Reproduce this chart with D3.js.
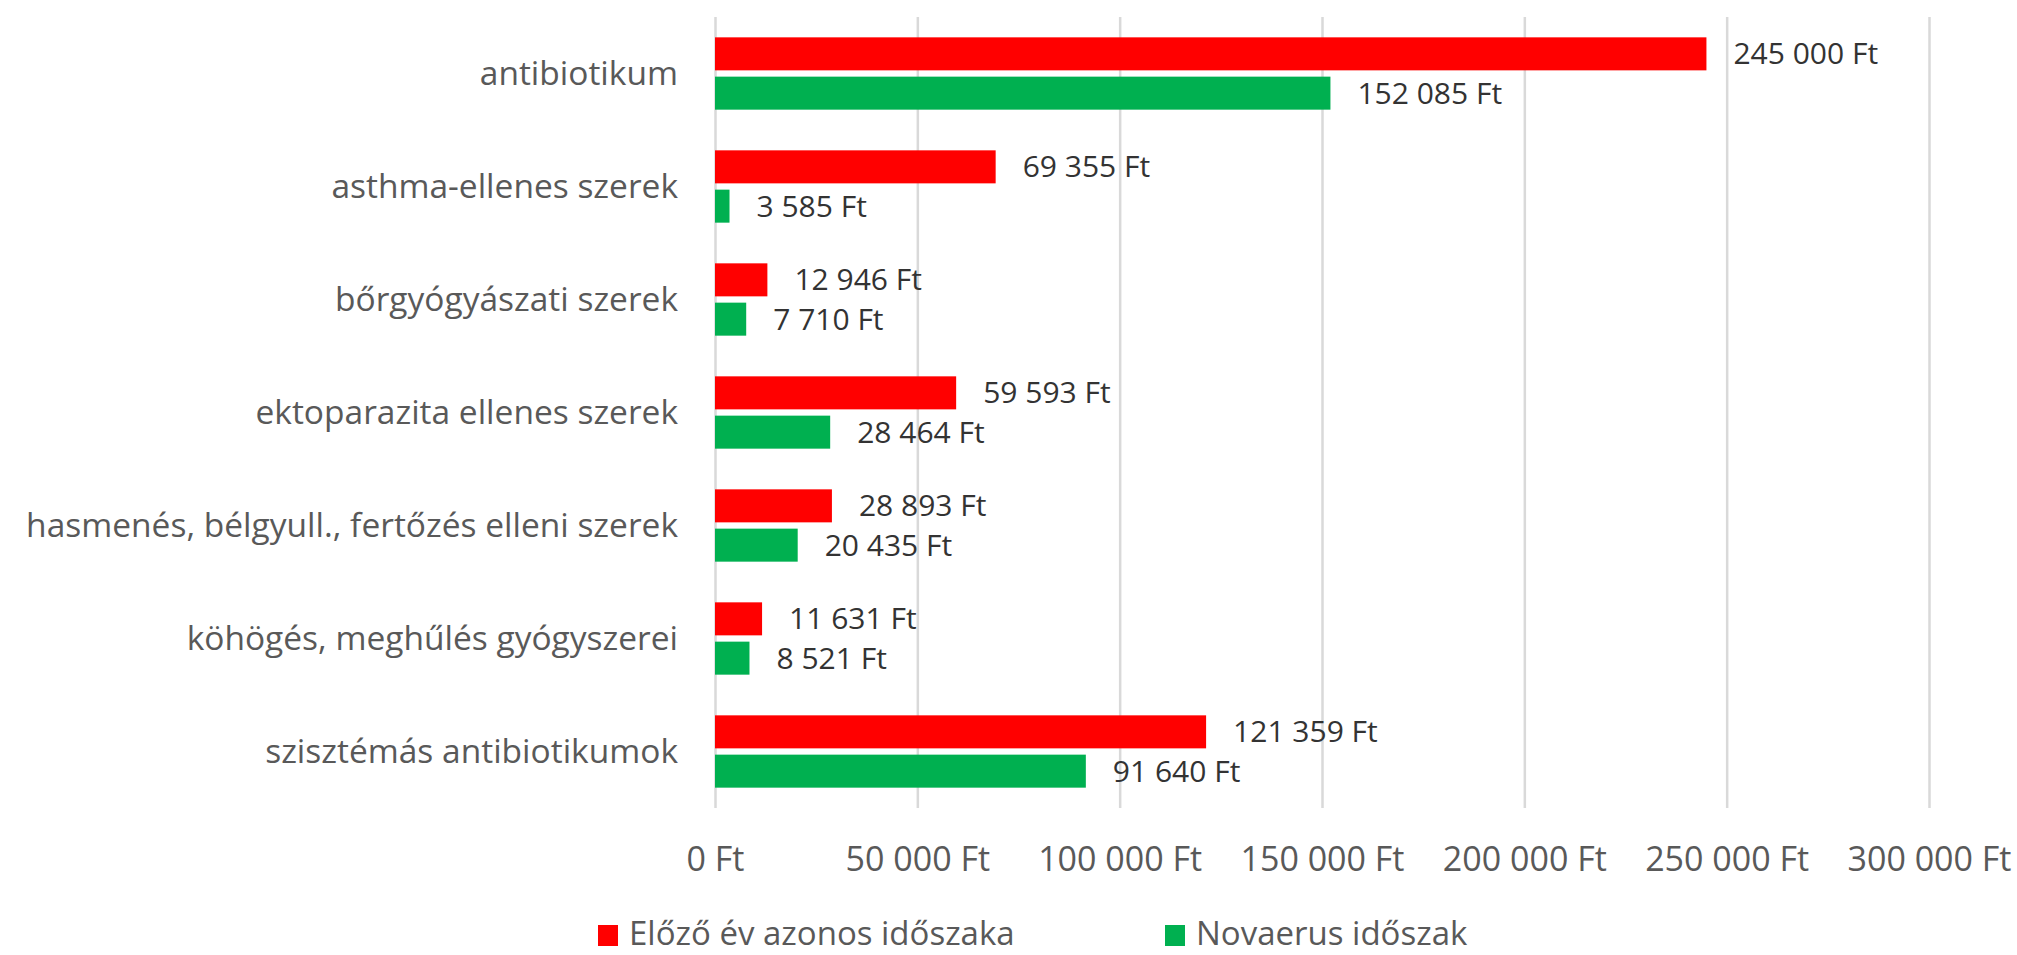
<!DOCTYPE html>
<html>
<head>
<meta charset="utf-8">
<script src="https://cdn.jsdelivr.net/npm/d3@7"></script>
<style>
  body { margin: 0; background: #fff; }
  svg { font-family: "Open Sans", sans-serif; }
</style>
</head>
<body>
<div id="chart"></div>
<script>
// Data
const categories = [
  'antibiotikum',
  'asthma-ellenes szerek',
  'bőrgyógyászati szerek',
  'ektoparazita ellenes szerek',
  'hasmenés, bélgyull., fertőzés elleni szerek',
  'köhögés, meghűlés gyógyszerei',
  'szisztémás antibiotikumok'
];
const seriesNames = ['Előző év azonos időszaka', 'Novaerus időszak'];
const previousYear = [245000, 69355, 12946, 59593, 28893, 11631, 121359];
const novaerus = [152085, 3585, 7710, 28464, 20435, 8521, 91640];
const tickValues = [0, 50000, 100000, 150000, 200000, 250000, 300000];
const colors = ['#ff0000', '#00b050'];

const width = 2017;
const height = 955;

const svg = d3.select('#chart').append('svg')
  .attr('width', width)
  .attr('height', height);

const x = d3.scaleLinear()
  .domain([0, 300000])
  .range([715, 1929]);

const y = d3.scaleBand()
  .domain(categories)
  .range([17, 808])
  .paddingInner(0.36)
  .paddingOuter(0.18);

const ySub = d3.scaleBand()
  .domain([0, 1])
  .range([0, y.bandwidth()])
  .paddingInner(0.16);

const fmt = v => d3.format(',')(v).replace(/,/g, ' ') + ' Ft';

// grid + x axis labels
const xAxis = svg.append('g')
  .attr('transform', `translate(0,808)`)
  .call(d3.axisBottom(x)
    .tickValues(tickValues)
    .tickSize(-(808 - 17))
    .tickPadding(39)
    .tickFormat(fmt));

xAxis.select('.domain').remove();
xAxis.selectAll('line')
  .attr('stroke', '#d9d9d9')
  .attr('stroke-width', 2.5);
xAxis.selectAll('text')
  .attr('fill', '#595959')
  .style('font-size', '34px')
  .style('font-family', '"Open Sans", sans-serif');

// category labels
svg.append('g')
  .selectAll('text')
  .data(categories)
  .enter().append('text')
  .attr('x', 678)
  .attr('y', d => y(d) + y.bandwidth() / 2)
  .attr('dy', '0.35em')
  .attr('text-anchor', 'end')
  .attr('fill', '#595959')
  .style('font-size', '33.5px')
  .text(d => d);

// bars
const rows = categories.map((c, i) => ({ cat: c, vals: [previousYear[i], novaerus[i]] }));

const groups = svg.append('g')
  .selectAll('g')
  .data(rows)
  .enter().append('g')
  .attr('transform', d => `translate(0,${y(d.cat)})`);

groups.selectAll('rect')
  .data(d => d.vals.map((v, k) => ({ v, k })))
  .enter().append('rect')
  .attr('x', x(0))
  .attr('y', d => ySub(d.k))
  .attr('width', d => x(d.v) - x(0))
  .attr('height', ySub.bandwidth())
  .attr('fill', d => colors[d.k]);

groups.selectAll('text')
  .data(d => d.vals.map((v, k) => ({ v, k })))
  .enter().append('text')
  .attr('x', d => x(d.v) + 27)
  .attr('y', d => ySub(d.k) + ySub.bandwidth() / 2)
  .attr('dy', '0.35em')
  .attr('fill', '#333333')
  .style('font-size', '30px')
  .text(d => fmt(d.v));

// legend
const legendX = [598, 1165];
const legend = svg.append('g')
  .selectAll('g')
  .data(seriesNames)
  .enter().append('g')
  .attr('transform', (d, i) => `translate(${legendX[i]},925)`);

legend.append('rect')
  .attr('width', 20)
  .attr('height', 21)
  .attr('fill', (d, i) => colors[i]);

legend.append('text')
  .attr('x', 31)
  .attr('y', 20)
  .attr('fill', '#595959')
  .style('font-size', '33px')
  .text(d => d);
</script>
</body>
</html>
